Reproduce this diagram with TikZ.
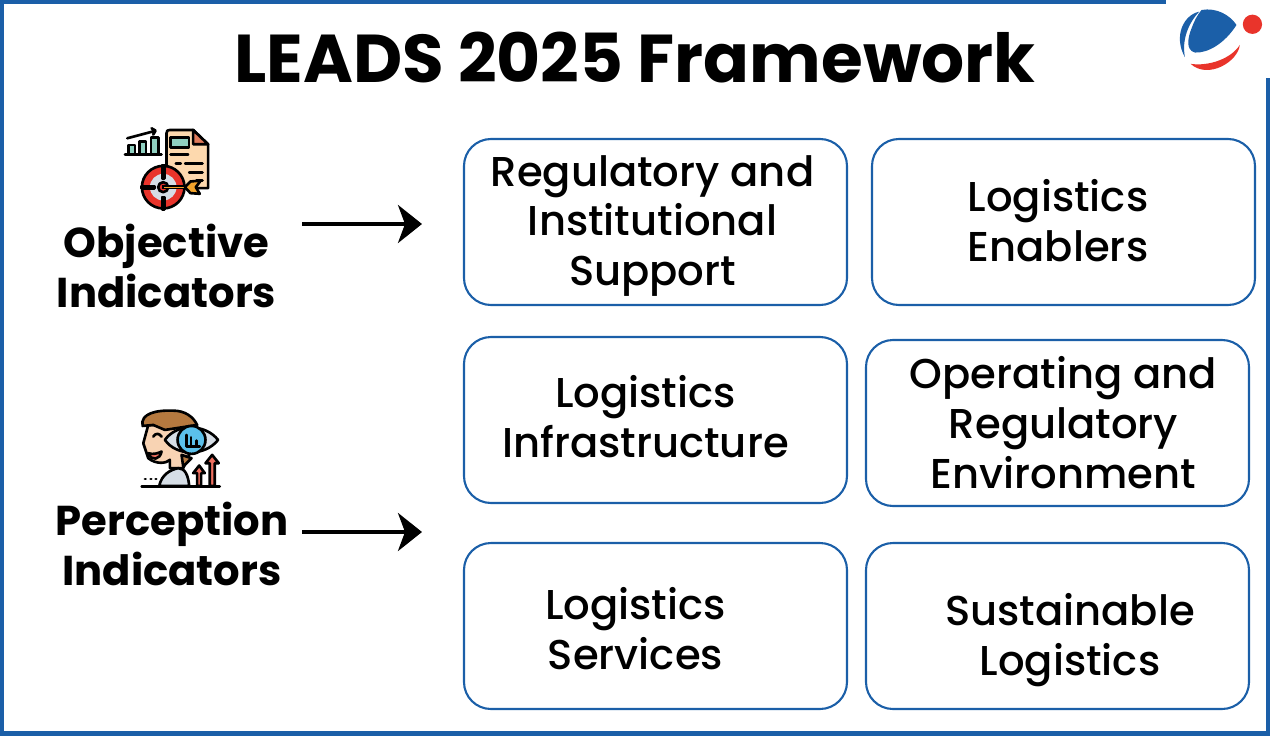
\documentclass[tikz,border=0pt]{standalone}
\usepackage{fontspec}
\setmainfont{Poppins}
\newfontfamily\boxfont{Poppins Medium}
\usetikzlibrary{arrows.meta}
\definecolor{frameblue}{HTML}{1B5FA8}
\definecolor{logored}{HTML}{E9342B}
\definecolor{paper}{HTML}{FDD9AE}
\definecolor{fold}{HTML}{E07B5A}
\definecolor{teal}{HTML}{8FD0C0}
\definecolor{dart}{HTML}{F2A32C}
\definecolor{hair}{HTML}{B5793F}
\definecolor{skin}{HTML}{F8D3B3}
\definecolor{eyegray}{HTML}{D6DEE6}
\definecolor{iris}{HTML}{5BC0EB}
\definecolor{upred}{HTML}{F07060}
\tikzset{
  framebox/.style={draw=frameblue, line width=0.6pt, rounded corners=0.27cm, minimum width=3.83cm, minimum height=1.66cm, inner sep=0pt},
  boxtext/.style={align=center, font=\fontsize{11.87}{14.2}\selectfont\boxfont, inner sep=0pt},
  sidetext/.style={align=center, font=\fontsize{11.87}{14.2}\selectfont\bfseries, inner sep=0pt},
  indarrow/.style={line width=1.1pt, -{Stealth[length=0.24cm, width=0.38cm, inset=0.07cm]}},
  ink/.style={draw=black, line width=0.75pt, line join=round, line cap=round},
  zoomone/.style={shift={(1,6.25)}, x=0.003333cm, y=-0.003333cm},
  zoomtwo/.style={shift={(1.2,3.35)}, x=0.003333cm, y=-0.003333cm},
  zoomlogo/.style={shift={(11.5,7.35)}, x=0.003333cm, y=-0.003333cm}
}
\begin{document}
\begin{tikzpicture}
\useasboundingbox (0,0) rectangle (12.7,7.35);
% frame
\draw [frameblue, line width=1.3pt] (0.015,0.015) rectangle (12.685,7.335);
\fill [white] (11.66,6.57) rectangle (12.7,7.35);
\node [font=\fontsize{19.25}{24}\selectfont\bfseries, inner sep=0pt] (title) at (6.35,6.77) {LEADS 2025 Framework};

% logo
\begin{scope}[zoomlogo]
\fill [frameblue] (155,30) .. controls (200,22) and (240,45) .. (260,75) .. controls (225,130) and (175,160) .. (135,158) .. controls (105,150) and (115,110) .. (125,85) .. controls (132,65) and (142,45) .. (155,30) -- cycle;
\fill [frameblue] (148,35) .. controls (100,45) and (70,110) .. (105,172) .. controls (95,120) and (115,70) .. (148,35) -- cycle;
\fill [logored] (122,192) .. controls (180,200) and (245,175) .. (270,135) .. controls (265,185) and (175,240) .. (122,192) -- cycle;
\fill [logored] (308,73) circle (29);
\end{scope}

% objective icon
\begin{scope}[zoomone]
\draw [ink, fill=paper] (210,60) -- (280,60) -- (325,103) -- (325,235) -- (210,235) .. controls (200,235) and (200,225) .. (200,215) -- (200,70) .. controls (200,62) and (203,60) .. (210,60) -- cycle;
\draw [ink, fill=fold] (280,60) -- (325,103) -- (280,103) -- cycle;
\draw [ink, fill=teal] (212,82) rectangle (268,112);
\draw [ink] (212,133) -- (265,133) (228,160) -- (243,160) (256,160) -- (308,160) (268,187) -- (308,187) (290,212) -- (308,212);
\draw [ink, fill=teal] (85,133) rectangle (105,105);
\draw [ink, fill=teal] (118,133) rectangle (138,95);
\draw [ink, fill=teal] (153,133) rectangle (175,83);
\draw [ink] (75,133) -- (185,133);
\draw [ink] (82,85) -- (165,63) (155,55) -- (167,62) -- (160,74);
\draw [ink, fill=logored] (190,232) circle (64);
\fill [eyegray] (190,232) circle (40);
\draw [ink, fill=logored] (190,232) circle (15);
\draw [ink, fill=white] (186,165) rectangle (194,205);
\draw [ink, fill=white] (186,262) rectangle (194,300);
\draw [ink, fill=white] (125,228) rectangle (163,236);
\draw [draw=black, line width=0.5pt, fill=dart] (190,229) rectangle (258,236);
\draw [ink, fill=dart] (255,232) -- (272,215) -- (303,212) -- (288,232) -- (300,252) -- (272,250) -- cycle;
\end{scope}

% perception icon
\begin{scope}[zoomtwo]
\draw [ink, fill=skin] (85,75) -- (70,130) -- (85,175) .. controls (110,195) and (140,190) .. (150,180) -- (150,205) -- (190,205) -- (210,160) -- (200,75) -- cycle;
\draw [ink, fill=hair] (68,78) .. controls (60,40) and (110,30) .. (160,32) .. controls (195,32) and (220,50) .. (232,75) -- (135,90) -- (100,75) -- cycle;
\draw [ink, fill=hair] (185,165) -- (215,175) -- (190,200) -- cycle;
\draw [ink, fill=upred] (85,160) .. controls (100,165) and (115,160) .. (125,155) .. controls (120,180) and (95,185) .. (85,160) -- cycle;
\draw [ink] (100,110) .. controls (108,98) and (118,100) .. (125,110);
\draw [ink, fill=eyegray] (135,120) .. controls (170,70) and (255,70) .. (295,120) .. controls (255,170) and (170,170) .. (135,120) -- cycle;
\draw [ink, fill=iris] (215,120) circle (42);
\draw [ink] (200,105) -- (200,140) -- (240,140) (214,112) -- (214,138) (230,122) -- (230,138);
\draw [ink, fill=eyegray] (118,258) .. controls (125,225) and (150,210) .. (175,205) .. controls (195,205) and (205,225) .. (208,258) -- cycle;
\draw [ink] (75,237) -- (77,237) (92,237) -- (94,237) (107,237) -- (109,237);
\draw [ink, fill=upred] (232,258) -- (232,220) -- (220,220) -- (238,197) -- (255,220) -- (244,220) -- (244,258) -- cycle;
\draw [ink, fill=upred] (270,258) -- (270,190) -- (257,190) -- (277,165) -- (297,190) -- (285,190) -- (285,258) -- cycle;
\draw [ink] (65,260) -- (300,260);
\end{scope}

\node [sidetext] (objective) at (1.665,4.69) {Objective\\Indicators};
\node [sidetext] (perception) at (1.72,1.91) {Perception\\Indicators};

\coordinate (objfrom) at (3.02,5.11);
\coordinate (objto) at (4.22,5.11);
\coordinate (perfrom) at (3.02,2.03);
\coordinate (perto) at (4.22,2.03);
\draw [indarrow] (objfrom) -- (objto);
\draw [indarrow] (perfrom) -- (perto);

% boxes
\node [framebox] (regbox) at (6.555,5.13) {};
\node [framebox] (enabox) at (10.635,5.13) {};
\node [framebox] (infbox) at (6.555,3.15) {};
\node [framebox] (opebox) at (10.575,3.12) {};
\node [framebox] (serbox) at (6.555,1.09) {};
\node [framebox] (susbox) at (10.575,1.09) {};

\node [boxtext] (regtext) at (6.525,5.09) {Regulatory and\\Institutional\\Support};
\node [boxtext] (enatext) at (10.58,5.14) {Logistics\\Enablers};
\node [boxtext] (inftext) at (6.455,3.18) {Logistics\\Infrastructure};
\node [boxtext] (opetext) at (10.635,3.125) {Operating and\\Regulatory\\Environment};
\node [boxtext] (sertext) at (6.355,1.06) {Logistics\\Services};
\node [boxtext] (sustext) at (10.7,0.95) {Sustainable\\Logistics};
\end{tikzpicture}
\end{document}
